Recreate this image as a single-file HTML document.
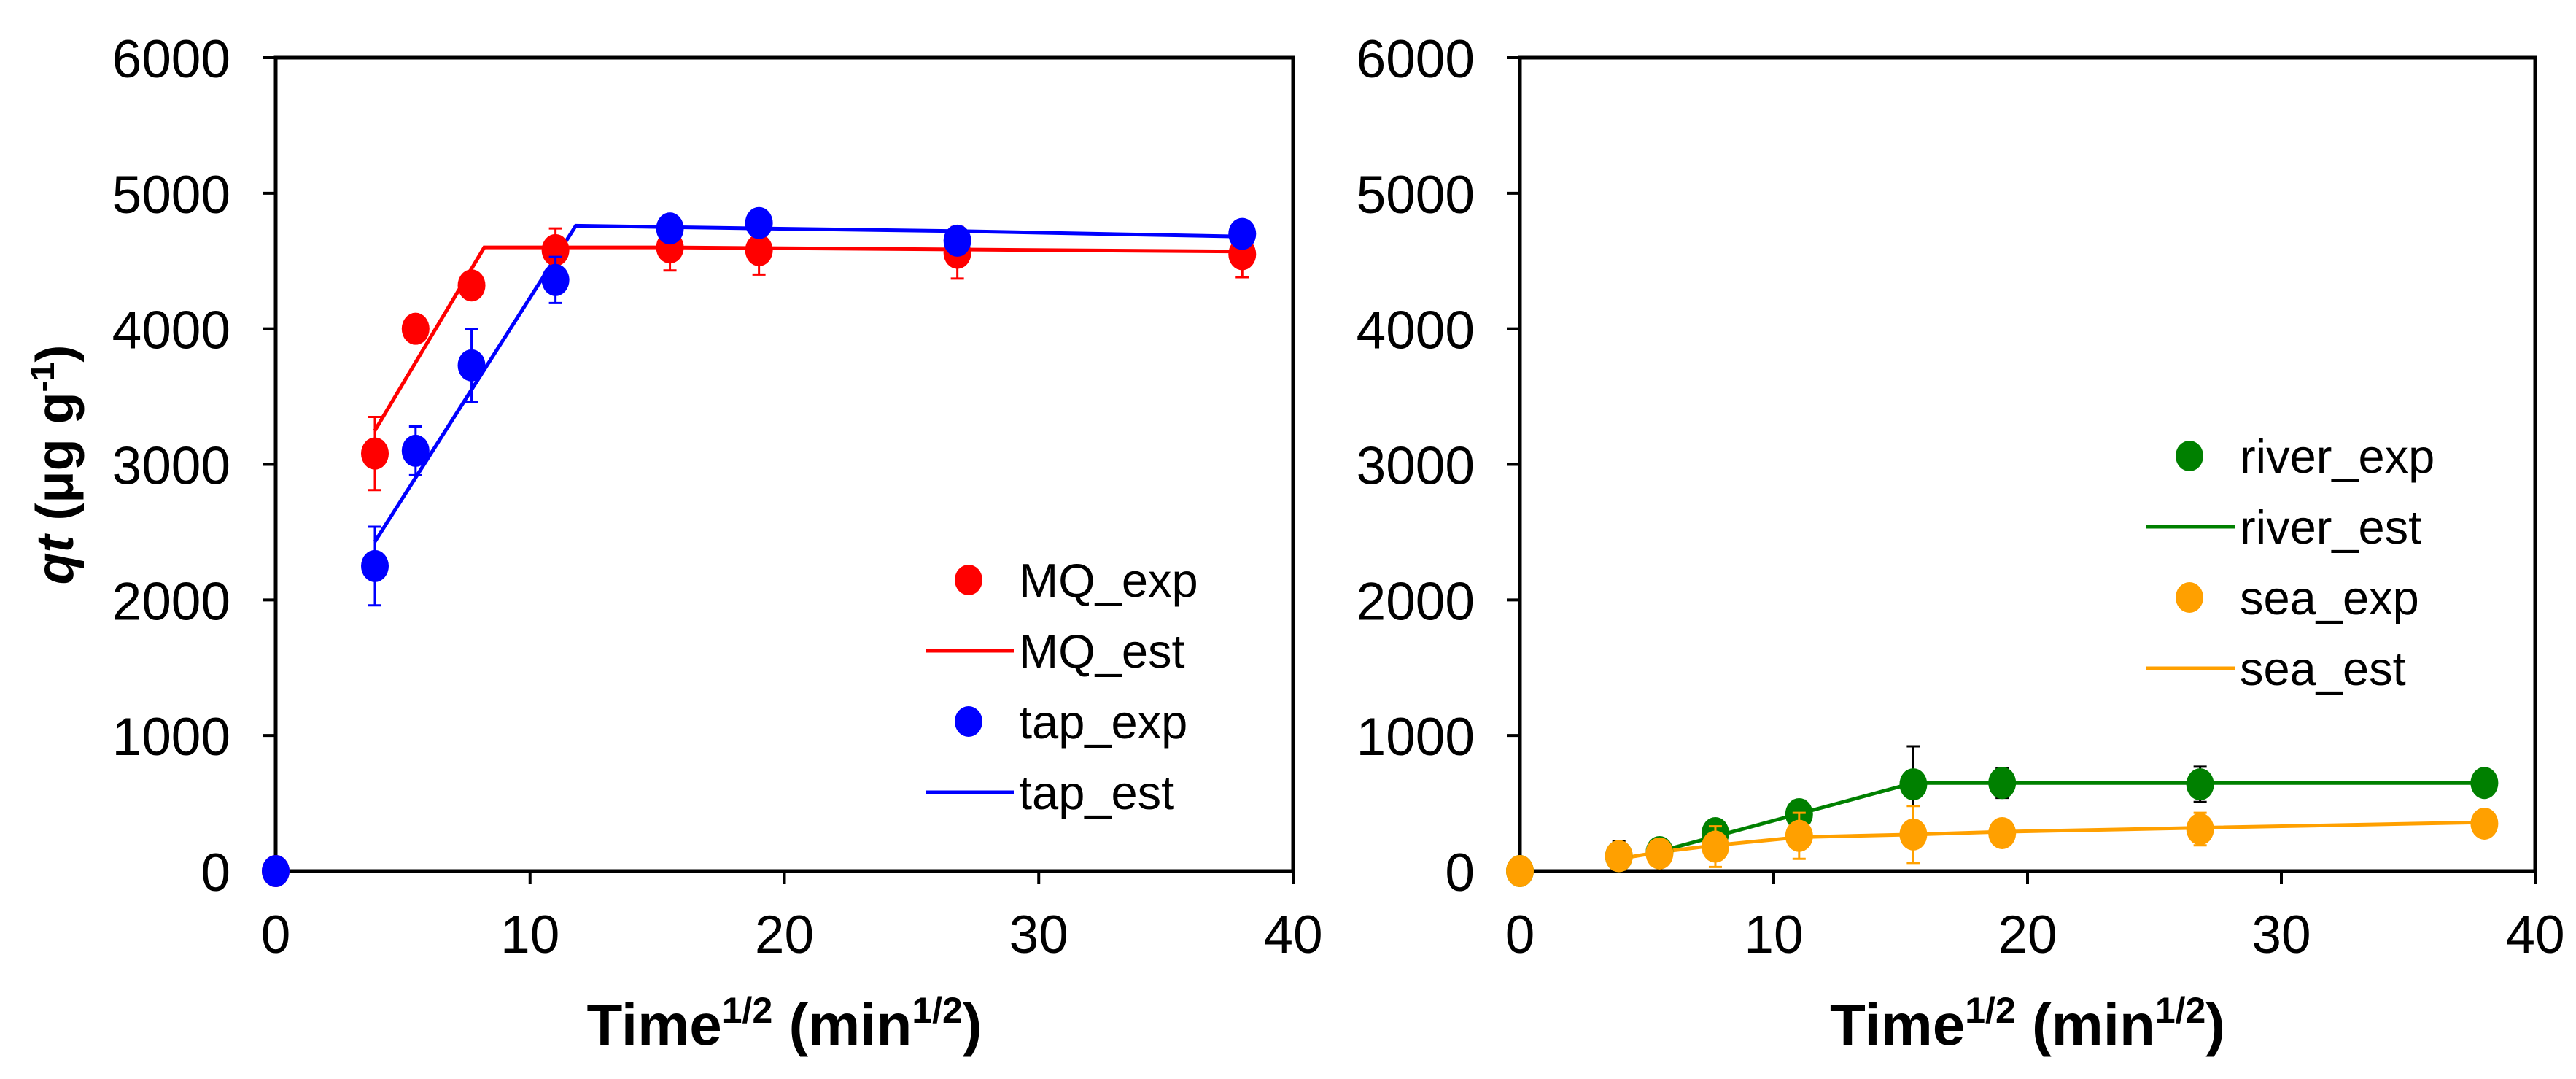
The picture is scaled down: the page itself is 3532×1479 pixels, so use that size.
<!DOCTYPE html>
<html><head><meta charset="utf-8"><style>
html,body{margin:0;padding:0;background:#fff;}
svg{display:block;font-family:"Liberation Sans",Arial,sans-serif;}
</style></head><body>
<svg id="fig" width="3532" height="1479" viewBox="0 0 3532 1479" xmlns="http://www.w3.org/2000/svg"></svg>
<script>
const timeX = [0,3.9,5.5,7.7,11,15.5,19,26.8,38];
const mqExp = [0,3080,4000,4320,4580,4600,4580,4560,4550];
const mqErr = [0,270,0,0,160,170,180,190,170];
const tapExp = [0,2250,3100,3730,4360,4740,4780,4650,4700];
const tapErr = [0,290,180,270,170,0,0,0,50];
const mqEstX = [3.9,8.2,15.5,38];
const mqEstY = [3250,4600,4600,4570];
const tapEstX = [3.9,11.8,19,27,38];
const tapEstY = [2430,4760,4740,4720,4680];
const riverExp = [0,110,140,280,420,640,650,640,650];
const riverErr = [0,110,50,80,100,280,110,130,0];
const seaExp = [0,110,130,180,260,270,280,310,350];
const seaErr = [0,100,60,150,170,210,0,120,0];
const riverEstX = [5.8,15.5,38];
const riverEstY = [160,650,650];
const seaEstX = [3.9,5.5,7.7,11,15.5,19,27,38];
const seaEstY = [90,140,190,250,270,290,320,360];
const xTicks = [0,10,20,30,40];
const yTicks = [0,1000,2000,3000,4000,5000,6000];

const NS="http://www.w3.org/2000/svg";
const svg=document.getElementById('fig');
function mk(tag,attrs,parent){const e=document.createElementNS(NS,tag);for(const k in attrs)e.setAttribute(k,attrs[k]);(parent||svg).appendChild(e);return e;}

function panel(px0,px1,name,series,legend){
  const py0=1194, py1=79;
  const sx=v=>px0+(v-0)/40*(px1-px0);
  const sy=v=>py0-(v/6000)*(py0-py1);
  const g=mk('g',{});
  
  
  const frame=mk('rect',{x:px0,y:py1,width:px1-px0,height:py0-py1,fill:'none',stroke:'#000','stroke-width':5},g);
  
  
  xTicks.forEach(t=>{
    mk('line',{x1:sx(t),x2:sx(t),y1:py0,y2:py0+18,stroke:'#000','stroke-width':4},g);
    const tx=mk('text',{x:sx(t),y:py0+112,'font-size':73,'text-anchor':'middle',fill:'#000'},g);
    tx.textContent=t;
    
    
  });
  yTicks.forEach(t=>{
    mk('line',{x1:px0-18,x2:px0,y1:sy(t),y2:sy(t),stroke:'#000','stroke-width':4},g);
    const tx=mk('text',{x:px0-62,y:sy(t)+27,'font-size':73,'text-anchor':'end',fill:'#000'},g);
    tx.textContent=t;
    
    
  });
  series.forEach(s=>{
    if(s.lx){
      const pts=s.lx.map((x,i)=>sx(x)+','+sy(s.ly[i])).join(' ');
      const pl=mk('polyline',{points:pts,fill:'none',stroke:s.color,'stroke-width':5},g);
      
      
    }
    if(s.y){
      s.y.forEach((v,i)=>{
        const e=s.err[i];
        if(e>0){
          const x=sx(timeX[i]);
          mk('line',{x1:x,x2:x,y1:sy(v-e),y2:sy(v+e),stroke:s.ecolor,'stroke-width':3},g);
          mk('line',{x1:x-9,x2:x+9,y1:sy(v+e),y2:sy(v+e),stroke:s.ecolor,'stroke-width':3},g);
          mk('line',{x1:x-9,x2:x+9,y1:sy(v-e),y2:sy(v-e),stroke:s.ecolor,'stroke-width':3},g);
        }
        const c=mk('ellipse',{cx:sx(timeX[i]),cy:sy(v),rx:19,ry:22,fill:s.color},g);
        
        
      });
    }
  });
  legend.items.forEach((it,i)=>{
    const y=legend.y+i*97;
    if(it.type==='dot'){mk('ellipse',{cx:legend.x+59,cy:y,rx:19,ry:21,fill:it.color},g);}
    else{mk('line',{x1:legend.x,x2:legend.x+121,y1:y,y2:y,stroke:it.color,'stroke-width':5},g);}
    const t=mk('text',{x:legend.x+128,y:y+23,'font-size':65,fill:'#000'},g);
    t.textContent=it.label;
    
    
  });
  const xl=mk('text',{x:(px0+px1)/2,y:1432,'font-size':80,'font-weight':'bold','text-anchor':'middle',fill:'#000'},g);
  xl.innerHTML='Time<tspan font-size="50" dy="-30">1/2</tspan><tspan dy="30"> (min</tspan><tspan font-size="50" dy="-30">1/2</tspan><tspan dy="30">)</tspan>';
  
  
}

panel(378,1773,'left-panel',[
  {name:'mq-est',lx:mqEstX,ly:mqEstY,color:'#ff0000'},
  {name:'tap-est',lx:tapEstX,ly:tapEstY,color:'#0000ff'},
  {name:'mq-exp',y:mqExp,err:mqErr,color:'#ff0000',ecolor:'#ff0000'},
  {name:'tap-exp',y:tapExp,err:tapErr,color:'#0000ff',ecolor:'#0000ff'}
],{x:1269,y:795,items:[
  {type:'dot',color:'#ff0000',label:'MQ_exp'},
  {type:'line',color:'#ff0000',label:'MQ_est'},
  {type:'dot',color:'#0000ff',label:'tap_exp'},
  {type:'line',color:'#0000ff',label:'tap_est'}]});

panel(2084,3476,'right-panel',[
  {name:'river-est',lx:riverEstX,ly:riverEstY,color:'#008000'},
  {name:'sea-est',lx:seaEstX,ly:seaEstY,color:'#ffa000'},
  {name:'river-exp',y:riverExp,err:riverErr,color:'#008000',ecolor:'#000'},
  {name:'sea-exp',y:seaExp,err:seaErr,color:'#ffa000',ecolor:'#ffa000'}
],{x:2943,y:625,items:[
  {type:'dot',color:'#008000',label:'river_exp'},
  {type:'line',color:'#008000',label:'river_est'},
  {type:'dot',color:'#ffa000',label:'sea_exp'},
  {type:'line',color:'#ffa000',label:'sea_est'}]});

const yt=mk('text',{x:0,y:0,'font-size':72,'font-weight':'bold','text-anchor':'middle',fill:'#000',transform:'translate(100,637) rotate(-90)'});
yt.innerHTML='<tspan font-style="italic">qt</tspan> (μg g<tspan font-size="46" dy="-26">-1</tspan><tspan dy="26">)</tspan>';


</script>
</body></html>
